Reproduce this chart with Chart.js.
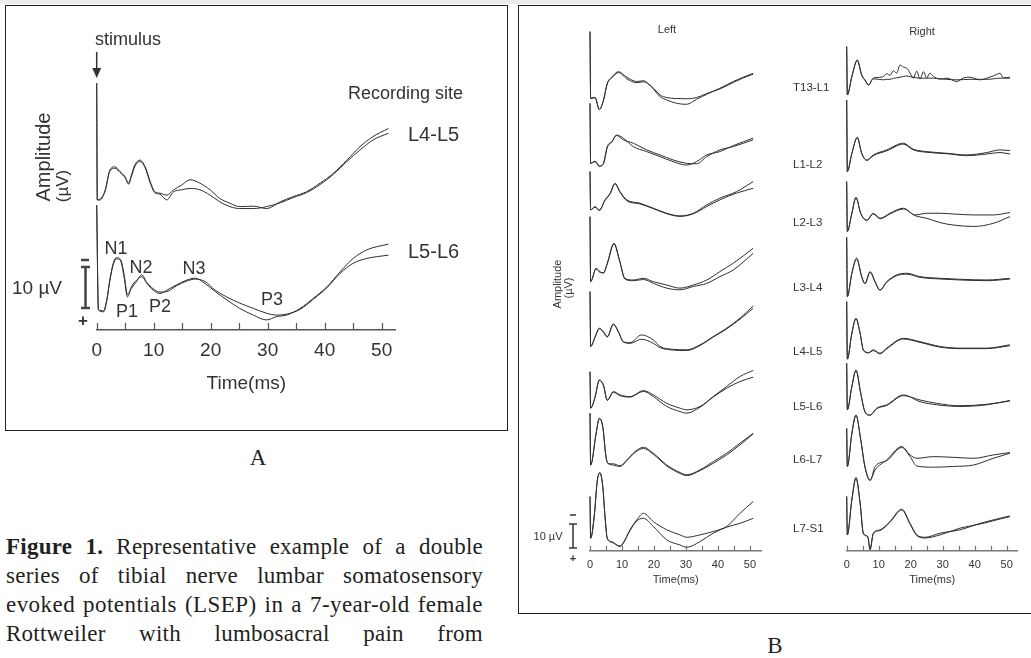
<!DOCTYPE html>
<html>
<head>
<meta charset="utf-8">
<title>LSEP</title>
<script src="https://cdn.jsdelivr.net/npm/chart.js@4.4.1/dist/chart.umd.min.js"></script>
<style>
  body { margin: 0; background: #fff; }
  #page { position: relative; width: 1031px; height: 658px; overflow: hidden; font-family: "Liberation Sans", Arial, sans-serif; color: #333; }
  #franja { position: absolute; left: 0; top: 0; width: 1031px; height: 4px; background: #ececec; }
  .box { position: absolute; border: 1.5px solid #222; box-sizing: border-box; }
  .lbl { position: absolute; white-space: nowrap; line-height: 1; transform: translate(-50%, -50%); }
  .izq { transform: translate(0, -50%); }
  .rot { transform: translate(-50%, -50%) rotate(-90deg); }
  canvas { position: absolute; }
  .cap { position: absolute; left: 6px; width: 477px; font-family: "Liberation Serif", "Times New Roman", serif; font-size: 23px; letter-spacing: 0.25px; color: #231f20; text-align: justify; text-align-last: justify; white-space: nowrap; line-height: 1; }
  .serif { font-family: "Liberation Serif", "Times New Roman", serif; color: #231f20; }
</style>
</head>
<body>
<div id="page">
  <div id="franja"></div>
  <div class="box" style="left:5px;top:5px;width:503px;height:426px;"></div>
  <div class="box" style="left:518px;top:5px;width:530px;height:609px;"></div>

  <canvas id="graficoA" width="500" height="423" style="left:6px;top:6px;"></canvas>
  <canvas id="graficoIzq" width="250" height="600" style="left:522px;top:8px;"></canvas>
  <canvas id="graficoDer" width="245" height="600" style="left:780px;top:8px;"></canvas>

  <!-- panel A texts -->
  <div class="lbl" style="left:128px;top:39px;font-size:18px;">stimulus</div>
  <div class="lbl izq" style="left:348px;top:93px;font-size:18px;">Recording site</div>
  <div class="lbl izq" style="left:408px;top:134px;font-size:20px;">L4-L5</div>
  <div class="lbl izq" style="left:408px;top:251px;font-size:20px;">L5-L6</div>
  <div class="lbl rot" style="left:43px;top:157px;font-size:20px;">Amplitude</div>
  <div class="lbl rot" style="left:62px;top:186px;font-size:17px;">(µV)</div>
  <div class="lbl" style="left:116px;top:248px;font-size:18px;">N1</div>
  <div class="lbl" style="left:141px;top:267px;font-size:18px;">N2</div>
  <div class="lbl" style="left:194px;top:268px;font-size:18px;">N3</div>
  <div class="lbl" style="left:127px;top:311px;font-size:18px;">P1</div>
  <div class="lbl" style="left:160px;top:306px;font-size:18px;">P2</div>
  <div class="lbl" style="left:272px;top:299px;font-size:18px;">P3</div>
  <div class="lbl" style="left:37px;top:287px;font-size:19px;">10 µV</div>
  <div class="lbl" style="left:83px;top:320px;font-size:17px;font-weight:bold;">+</div>
  <div class="lbl serif" style="left:258px;top:457px;font-size:23px;">A</div>

  <!-- panel B texts -->
  <div class="lbl" style="left:667px;top:29px;font-size:11px;">Left</div>
  <div class="lbl" style="left:922px;top:31px;font-size:11px;">Right</div>
  <div class="lbl rot" style="left:557px;top:284px;font-size:11px;">Amplitude</div>
  <div class="lbl rot" style="left:568px;top:288px;font-size:11px;">(µV)</div>
  <div class="lbl" style="left:548px;top:536px;font-size:11px;">10 µV</div>
  <div class="lbl" style="left:573px;top:558px;font-size:11px;font-weight:bold;">+</div>
  <div class="lbl serif" style="left:775px;top:645px;font-size:23px;">B</div>
  <div id="sitios"></div>

  <!-- caption -->
  <div class="cap" style="top:535px;"><b>Figure 1.</b> Representative example of a double</div>
  <div class="cap" style="top:564px;">series of tibial nerve lumbar somatosensory</div>
  <div class="cap" style="top:593px;letter-spacing:0.45px;">evoked potentials (LSEP) in a 7-year-old female</div>
  <div class="cap" style="top:622px;">Rottweiler with lumbosacral pain from</div>
</div>

<script>
// ---- Panel A: amplitude in µV (negativity up), time in ms ----
const tA_L4L5 = [0, 0.1, 0.6, 1.5, 2.3, 3.2, 4.1, 5.0, 5.6, 6.1, 6.7, 7.6, 8.5, 9.4, 10.2, 11.1, 12.3, 13.5, 14.9, 16.4, 18.1, 19.9, 21.6, 23.4, 25.1, 27.5, 29.8, 32.2, 34.5, 36.8, 39.2, 41.5, 43.9, 46.2, 48.5, 51.2];
const A_L4L5_r1 = [51.4, 27.1, 27.1, 29.2, 33.3, 34.0, 33.0, 31.9, 30.6, 32.3, 34.4, 35.4, 34.0, 30.9, 28.8, 28.5, 28.1, 29.2, 30.2, 31.3, 30.6, 29.2, 27.4, 26.4, 25.7, 25.8, 25.3, 26.7, 27.8, 28.8, 30.6, 32.6, 35.4, 38.2, 40.3, 42.0];
const A_L4L5_r2 = [51.4, 27.1, 27.3, 29.0, 33.1, 33.7, 32.8, 31.7, 30.4, 32.0, 34.1, 35.1, 33.8, 30.6, 28.6, 28.3, 27.1, 28.8, 29.2, 29.5, 29.2, 28.1, 26.7, 25.7, 25.3, 25.3, 25.7, 26.5, 27.6, 28.6, 30.3, 32.4, 35.1, 37.5, 39.6, 41.0];

const tA_L5L6 = [0, 0.3, 1.2, 1.8, 2.3, 2.9, 3.5, 4.2, 4.8, 5.4, 6.1, 7.0, 7.9, 8.8, 9.9, 11.1, 12.3, 14.0, 15.8, 17.3, 19.0, 20.8, 22.8, 25.1, 27.5, 29.8, 31.6, 33.3, 35.7, 38.0, 40.4, 42.7, 45.0, 47.4, 51.2];
const A_L5L6_r1 = [26.0, 4.2, 3.8, 6.3, 10.4, 13.9, 15.1, 14.4, 11.1, 6.9, 9.0, 10.4, 11.1, 9.7, 8.3, 7.6, 8.3, 9.4, 10.4, 10.8, 9.7, 8.0, 6.3, 4.5, 3.1, 2.1, 2.8, 3.1, 4.5, 6.6, 9.0, 12.1, 14.9, 16.7, 17.9];
const A_L5L6_r2 = [26.0, 4.2, 4.0, 6.5, 10.2, 13.6, 14.8, 14.6, 11.6, 7.4, 8.7, 10.1, 11.5, 9.9, 8.6, 7.9, 8.0, 9.2, 10.2, 10.6, 10.1, 8.3, 6.9, 5.6, 4.5, 3.5, 3.1, 3.3, 4.3, 6.4, 8.8, 11.8, 13.9, 14.9, 15.6];

// ---- Panel B, left side ----
const tL_T13L1 = [0, 0.2, 1.6, 2.9, 4.2, 5.4, 6.8, 8.9, 11.5, 14.6, 16.7, 19.3, 21.9, 24.0, 27.1, 30.2, 33.3, 36.5, 40.6, 44.8, 47.9, 51.0];
const L_T13L1_r1 = [216.3, 188.5, 188.9, 183.7, 187.8, 194.8, 197.3, 199.6, 197.3, 195.5, 195.8, 193.1, 189.2, 187.8, 186.4, 186.0, 188.1, 190.2, 192.7, 195.5, 197.3, 198.9];
const L_T13L1_r2 = [216.3, 188.5, 188.7, 183.9, 187.5, 194.5, 197.0, 199.2, 196.6, 195.0, 195.4, 193.4, 189.9, 188.8, 188.4, 188.3, 188.8, 190.5, 192.4, 195.1, 197.0, 198.6];

const tL_L1L2 = [0, 0.2, 1.6, 2.9, 4.2, 5.4, 6.8, 8.3, 10.4, 13.5, 17.7, 21.9, 26.0, 30.2, 33.3, 36.5, 40.6, 44.8, 51.0];
const L_L1L2_r1 = [186.4, 161.4, 162.1, 160.1, 161.4, 168.4, 170.5, 173.2, 171.9, 168.4, 166.3, 164.2, 162.1, 160.7, 162.1, 164.9, 166.3, 168.8, 171.9];
const L_L1L2_r2 = [186.4, 161.4, 162.3, 160.4, 161.2, 168.0, 170.2, 173.0, 171.2, 169.8, 167.0, 164.9, 162.8, 161.4, 161.2, 164.2, 167.0, 168.4, 171.2];

const tL_L2L3 = [0, 0.2, 1.6, 2.9, 4.7, 6.3, 7.8, 9.4, 11.5, 15.6, 19.8, 24.0, 28.1, 32.3, 36.5, 40.6, 45.8, 51.0];
const L_L2L3_r1 = [158.0, 142.0, 143.4, 141.7, 146.2, 149.0, 153.1, 149.6, 146.2, 144.8, 142.7, 140.6, 139.5, 140.6, 144.1, 146.9, 149.6, 153.8];
const L_L2L3_r2 = [158.0, 142.0, 143.2, 141.9, 146.0, 148.7, 152.8, 149.3, 145.8, 144.5, 142.5, 140.4, 139.3, 140.4, 143.4, 146.2, 149.0, 151.0];

const tL_L3L4 = [0, 0.2, 1.9, 3.1, 4.2, 5.4, 7.5, 9.2, 10.9, 13.5, 16.7, 19.8, 24.0, 28.1, 32.3, 36.5, 40.6, 44.8, 51.0];
const L_L3L4_r1 = [139.2, 112.1, 117.7, 116.3, 115.6, 119.8, 128.1, 121.2, 113.5, 112.8, 113.5, 112.1, 110.7, 109.4, 110.7, 112.8, 116.3, 119.8, 126.0];
const L_L3L4_r2 = [139.2, 112.1, 117.4, 116.0, 115.9, 119.5, 127.8, 121.0, 113.2, 112.5, 113.0, 111.4, 109.4, 108.7, 110.1, 111.4, 114.2, 117.0, 123.9];

const tL_L4L5 = [0, 0.2, 1.6, 2.9, 4.2, 5.4, 7.3, 8.9, 10.4, 12.5, 16.1, 19.8, 21.9, 26.0, 30.2, 34.4, 38.5, 42.7, 46.9, 51.0];
const L_L4L5_r1 = [108.0, 85.1, 89.2, 92.7, 91.3, 89.2, 94.5, 91.3, 87.1, 86.7, 89.9, 87.8, 85.1, 83.9, 83.7, 85.8, 89.2, 92.7, 96.9, 102.0];
const L_L4L5_r2 = [108.0, 85.1, 89.0, 92.5, 91.0, 89.0, 94.2, 91.0, 87.0, 86.4, 88.1, 86.4, 84.6, 83.6, 83.4, 85.5, 89.0, 92.4, 96.5, 101.0];

const tL_L5L6 = [0, 0.2, 1.6, 2.9, 4.2, 5.4, 7.3, 9.4, 12.5, 16.7, 19.8, 24.0, 28.1, 30.2, 34.4, 38.5, 42.7, 46.9, 51.0];
const L_L5L6_r1 = [74.6, 59.4, 64.2, 71.2, 69.1, 62.8, 66.3, 64.9, 64.2, 66.7, 64.9, 61.4, 59.4, 58.7, 60.1, 64.2, 68.4, 72.6, 75.1];
const L_L5L6_r2 = [74.6, 59.4, 64.0, 71.0, 68.8, 62.6, 66.0, 64.6, 64.0, 66.4, 64.2, 60.1, 58.0, 57.3, 59.8, 64.0, 67.7, 70.5, 72.3];

const tL_L6L7 = [0, 0.2, 1.9, 2.9, 4.0, 5.0, 5.7, 7.3, 9.4, 11.5, 14.1, 16.7, 19.8, 24.0, 28.1, 30.2, 34.4, 38.5, 42.7, 46.9, 51.0];
const L_L6L7_r1 = [57.3, 35.7, 48.9, 55.2, 51.7, 39.2, 36.4, 35.7, 35.1, 37.8, 41.3, 43.1, 40.6, 35.7, 32.6, 31.6, 33.7, 37.1, 40.6, 44.8, 48.9];
const L_L6L7_r2 = [57.3, 35.7, 48.6, 55.0, 51.4, 39.0, 36.2, 36.2, 35.4, 37.5, 41.0, 42.6, 40.2, 35.3, 32.2, 31.3, 33.4, 36.4, 39.9, 44.1, 48.7];

const tL_L7S1 = [0, 0.2, 1.3, 2.3, 3.1, 4.0, 4.7, 5.4, 6.8, 9.4, 10.4, 12.5, 14.6, 16.7, 19.8, 24.0, 28.1, 30.2, 34.4, 38.5, 42.7, 46.9, 51.0];
const L_L7S1_r1 = [22.6, 5.2, 14.2, 29.5, 32.6, 26.7, 14.2, 5.2, 3.8, 1.7, 3.1, 8.7, 12.8, 15.6, 12.1, 8.7, 6.6, 5.6, 6.6, 8.0, 10.1, 15.6, 20.5];
const L_L7S1_r2 = [22.6, 5.2, 14.0, 29.3, 32.3, 26.5, 14.0, 5.0, 3.5, 1.9, 3.3, 8.4, 12.4, 13.5, 10.1, 4.5, 2.4, 1.4, 3.8, 7.3, 9.8, 11.4, 13.5];

// ---- Panel B, right side ----
const tR_T13L1 = [0, 0.2, 1.6, 3.3, 4.7, 5.7, 6.8, 8.3, 10.0, 11.5, 12.5, 13.5, 14.6, 15.6, 16.7, 17.7, 18.8, 19.8, 20.8, 21.9, 22.9, 24.0, 25.0, 26.0, 27.1, 29.2, 31.3, 34.4, 36.5, 38.5, 41.7, 43.8, 45.8, 47.9, 49.0, 51.0];
const R_T13L1_r1 = [210.1, 189.9, 197.6, 204.5, 198.3, 196.2, 194.1, 196.9, 197.2, 197.6, 198.8, 198.0, 200.0, 199.0, 202.4, 201.5, 201.0, 199.0, 196.9, 199.8, 196.5, 199.6, 197.0, 199.0, 197.6, 196.5, 196.9, 195.5, 197.0, 197.3, 196.2, 196.9, 197.8, 198.9, 197.0, 197.3];
const R_T13L1_r2 = [210.1, 189.9, 197.4, 204.2, 198.0, 196.0, 194.0, 196.6, 196.4, 196.2, 196.4, 196.4, 196.8, 197.0, 197.3, 197.6, 197.8, 197.5, 197.3, 197.0, 196.9, 196.9, 196.9, 196.9, 196.9, 196.6, 196.4, 196.2, 196.3, 196.4, 196.4, 196.4, 196.6, 196.9, 196.9, 196.9];

const tR_L1L2 = [0, 0.2, 1.6, 3.3, 4.7, 6.3, 8.3, 12.5, 17.7, 20.8, 25.0, 31.3, 37.5, 43.8, 47.9, 51.0];
const R_L1L2_r1 = [187.8, 158.0, 165.6, 172.3, 165.6, 162.8, 164.9, 167.0, 169.8, 167.3, 166.3, 165.6, 164.9, 165.9, 167.0, 166.7];
const R_L1L2_r2 = [187.8, 158.0, 165.4, 172.0, 165.4, 162.6, 164.6, 166.6, 169.4, 167.0, 166.0, 165.4, 164.6, 165.3, 165.9, 165.3];

const tR_L2L3 = [0, 0.2, 1.6, 2.9, 4.4, 6.3, 8.3, 10.4, 13.5, 17.7, 21.4, 25.0, 29.2, 33.3, 39.6, 45.8, 51.0];
const R_L2L3_r1 = [153.8, 133.0, 140.6, 147.3, 140.6, 137.8, 140.6, 138.5, 140.6, 142.7, 139.9, 140.6, 140.6, 140.3, 139.9, 139.9, 140.9];
const R_L2L3_r2 = [153.8, 133.0, 140.4, 147.0, 140.4, 137.6, 140.3, 138.3, 140.3, 142.4, 139.6, 138.5, 136.7, 135.7, 135.1, 136.4, 139.2];

const tR_L3L4 = [0, 0.2, 1.6, 3.1, 4.7, 5.7, 7.3, 8.9, 10.4, 12.5, 15.6, 18.8, 22.9, 29.2, 35.4, 43.8, 51.0];
const R_L3L4_r1 = [130.6, 105.9, 115.6, 121.9, 114.2, 111.4, 116.3, 112.1, 108.7, 112.1, 114.9, 115.6, 114.2, 113.5, 113.1, 112.8, 113.5];
const R_L3L4_r2 = [130.6, 105.9, 115.4, 121.6, 114.0, 111.2, 116.0, 111.8, 108.5, 111.8, 114.6, 115.2, 113.9, 113.2, 112.8, 112.5, 113.2];

const tR_L4L5 = [0, 0.2, 1.6, 2.9, 4.2, 5.2, 6.8, 8.3, 10.4, 12.5, 17.7, 22.9, 29.2, 35.4, 43.8, 51.0];
const R_L4L5_r1 = [103.8, 79.8, 90.6, 96.9, 90.6, 83.7, 82.6, 83.7, 82.3, 84.4, 88.5, 87.1, 85.1, 84.4, 84.4, 85.8];
const R_L4L5_r2 = [103.8, 79.8, 90.4, 96.6, 90.4, 83.5, 82.4, 83.4, 82.0, 84.1, 88.2, 86.8, 84.8, 84.2, 84.2, 85.4];

const tR_L5L6 = [0, 0.2, 1.6, 2.9, 4.4, 5.7, 7.3, 9.4, 12.5, 17.7, 22.9, 28.1, 35.4, 43.8, 51.0];
const R_L5L6_r1 = [78.1, 58.7, 68.4, 75.3, 65.6, 58.0, 56.6, 59.4, 60.8, 64.9, 62.1, 60.8, 60.1, 60.8, 62.6];
const R_L5L6_r2 = [78.1, 58.7, 68.2, 75.0, 65.4, 57.8, 56.4, 59.2, 60.5, 64.6, 62.8, 61.4, 60.4, 61.0, 62.4];

const tR_L6L7 = [0, 0.2, 1.6, 2.9, 4.4, 5.7, 7.3, 8.9, 12.5, 17.2, 19.8, 21.9, 27.1, 33.3, 39.6, 45.8, 51.0];
const R_L6L7_r1 = [51.0, 35.1, 48.9, 56.6, 46.2, 35.1, 29.5, 33.7, 37.8, 43.4, 39.9, 38.5, 39.2, 38.9, 38.5, 39.9, 40.9];
const R_L6L7_r2 = [51.0, 35.1, 48.6, 56.3, 46.0, 34.8, 29.2, 35.1, 37.5, 43.0, 39.2, 35.3, 34.8, 35.1, 35.7, 38.5, 40.6];

const tR_L7S1 = [0, 0.2, 1.6, 2.9, 4.2, 5.2, 6.6, 7.3, 8.3, 10.4, 13.5, 17.2, 19.8, 21.9, 24.5, 29.2, 35.4, 41.7, 47.9, 51.0];
const R_L7S1_r1 = [22.6, 6.6, 21.2, 30.5, 19.8, 7.3, 5.9, 0.3, 7.3, 8.7, 12.1, 17.3, 11.4, 6.6, 5.6, 7.3, 8.7, 11.4, 13.5, 14.5];
const R_L7S1_r2 = [22.6, 6.6, 21.0, 30.2, 19.6, 7.1, 5.7, 0.6, 7.0, 8.4, 11.8, 17.0, 11.1, 6.3, 5.3, 6.6, 9.4, 11.1, 13.2, 14.2];

// recording sites (labels between the two columns)
const sitios = ['T13-L1', 'L1-L2', 'L2-L3', 'L3-L4', 'L4-L5', 'L5-L6', 'L6-L7', 'L7-S1'];
const sitiosY = [88, 165, 223, 288, 352, 407, 460, 529];

var contSitios = document.getElementById('sitios');
sitios.forEach(function (s, i) {
    var d = document.createElement('div');
    d.className = 'lbl izq';
    d.style.left = '793px';
    d.style.top = sitiosY[i] + 'px';
    d.style.fontSize = '11.5px';
    d.textContent = s;
    contSitios.appendChild(d);
});

function trazos(t, corridas) {
    return corridas.map(function (r) {
        return {
            data: t.map(function (x, i) { return { x: x, y: r[i] }; }),
            borderColor: '#2e2e2e',
            borderWidth: 1,
            pointRadius: 0,
            cubicInterpolationMode: 'monotone',
            fill: false,
            clip: false
        };
    });
}

function marcas(cfg) {
    return {
        id: 'marcas',
        afterDraw: function (chart) {
            var ctx = chart.ctx;
            var xs = chart.scales.x;
            var base = chart.chartArea.bottom;
            ctx.save();
            ctx.strokeStyle = cfg.axisColor;
            ctx.lineWidth = 1.2;
            xs.ticks.forEach(function (tk) {
                var px = Math.round(xs.getPixelForValue(tk.value)) + 0.5;
                ctx.beginPath();
                ctx.moveTo(px, base);
                ctx.lineTo(px, base - cfg.tickLen);
                ctx.stroke();
            });
            if (cfg.extra) cfg.extra(chart, ctx);
            ctx.restore();
        }
    };
}

function grafico(id, datasets, cfg) {
    return new Chart(document.getElementById(id), {
        type: 'line',
        data: { datasets: datasets },
        options: {
            responsive: false,
            animation: false,
            events: [],
            layout: { padding: cfg.padding },
            plugins: { legend: { display: false }, tooltip: { enabled: false } },
            scales: {
                x: {
                    type: 'linear',
                    min: 0,
                    max: cfg.xmax,
                    border: { display: true, color: cfg.axisColor, width: cfg.axisWidth },
                    grid: { display: false },
                    ticks: {
                        stepSize: 5,
                        includeBounds: false,
                        autoSkip: false,
                        maxRotation: 0,
                        padding: cfg.tickPad,
                        color: '#333',
                        font: { family: 'Liberation Sans', size: cfg.fontSize },
                        callback: function (v) { return v % 10 === 0 ? v : ''; }
                    },
                    title: {
                        display: true,
                        text: 'Time(ms)',
                        color: '#333',
                        font: { family: 'Liberation Sans', size: cfg.fontSize },
                        padding: { top: 0, bottom: cfg.titlePad }
                    },
                    afterFit: function (s) { s.height = cfg.axisHeight; }
                },
                y: { type: 'linear', display: false, min: 0, max: cfg.ymax }
            }
        },
        plugins: [marcas(cfg)]
    });
}

// scale bar + stimulus arrow for panel A
function extrasA(chart, ctx) {
    var x0 = chart.scales.x.getPixelForValue(0);
    ctx.strokeStyle = '#333';
    ctx.fillStyle = '#333';
    ctx.lineWidth = 1.5;
    ctx.beginPath(); ctx.moveTo(x0, 46); ctx.lineTo(x0, 64); ctx.stroke();
    ctx.beginPath(); ctx.moveTo(x0 - 4.5, 62); ctx.lineTo(x0 + 4.5, 62); ctx.lineTo(x0, 72); ctx.closePath(); ctx.fill();
    ctx.strokeStyle = '#444';
    ctx.lineWidth = 2.5;
    ctx.beginPath(); ctx.moveTo(75, 254); ctx.lineTo(83, 254); ctx.stroke();
    ctx.beginPath(); ctx.moveTo(75, 261); ctx.lineTo(84, 261); ctx.stroke();
    ctx.beginPath(); ctx.moveTo(75, 302); ctx.lineTo(84, 302); ctx.stroke();
    ctx.beginPath(); ctx.moveTo(79.5, 261); ctx.lineTo(79.5, 302); ctx.stroke();
}

// scale bar for panel B
function extrasB(chart, ctx) {
    ctx.strokeStyle = '#333';
    ctx.lineWidth = 1.5;
    ctx.beginPath(); ctx.moveTo(48, 507); ctx.lineTo(54, 507); ctx.stroke();
    ctx.beginPath(); ctx.moveTo(47, 516); ctx.lineTo(55, 516); ctx.stroke();
    ctx.beginPath(); ctx.moveTo(47, 540); ctx.lineTo(55, 540); ctx.stroke();
    ctx.beginPath(); ctx.moveTo(51, 516); ctx.lineTo(51, 540); ctx.stroke();
}

grafico('graficoA',
    trazos(tA_L4L5, [A_L4L5_r1, A_L4L5_r2]).concat(trazos(tA_L5L6, [A_L5L6_r1, A_L5L6_r2])),
    { padding: { left: 90.7, right: 110.1, top: 54, bottom: 0 }, xmax: 52.5, ymax: 56.25,
      axisColor: '#555', axisWidth: 1.5, tickLen: 7, tickPad: 1, fontSize: 19, titlePad: 34,
      axisHeight: 99, extra: extrasA });

grafico('graficoIzq',
    [].concat(
        trazos(tL_T13L1, [L_T13L1_r1, L_T13L1_r2]),
        trazos(tL_L1L2, [L_L1L2_r1, L_L1L2_r2]),
        trazos(tL_L2L3, [L_L2L3_r1, L_L2L3_r2]),
        trazos(tL_L3L4, [L_L3L4_r1, L_L3L4_r2]),
        trazos(tL_L4L5, [L_L4L5_r1, L_L4L5_r2]),
        trazos(tL_L5L6, [L_L5L6_r1, L_L5L6_r2]),
        trazos(tL_L6L7, [L_L6L7_r1, L_L6L7_r2]),
        trazos(tL_L7S1, [L_L7S1_r1, L_L7S1_r2])),
    { padding: { left: 68, right: 10.5, top: 22, bottom: 0 }, xmax: 53.6, ymax: 216.96,
      axisColor: '#777', axisWidth: 1.5, tickLen: 5, tickPad: 0, fontSize: 11, titlePad: 21,
      axisHeight: 57.3, extra: extrasB });

grafico('graficoDer',
    [].concat(
        trazos(tR_T13L1, [R_T13L1_r1, R_T13L1_r2]),
        trazos(tR_L1L2, [R_L1L2_r1, R_L1L2_r2]),
        trazos(tR_L2L3, [R_L2L3_r1, R_L2L3_r2]),
        trazos(tR_L3L4, [R_L3L4_r1, R_L3L4_r2]),
        trazos(tR_L4L5, [R_L4L5_r1, R_L4L5_r2]),
        trazos(tR_L5L6, [R_L5L6_r1, R_L5L6_r2]),
        trazos(tR_L6L7, [R_L6L7_r1, R_L6L7_r2]),
        trazos(tR_L7S1, [R_L7S1_r1, R_L7S1_r2])),
    { padding: { left: 66.7, right: 7.4, top: 22, bottom: 0 }, xmax: 53.4, ymax: 216.96,
      axisColor: '#777', axisWidth: 1.5, tickLen: 5, tickPad: 0, fontSize: 11, titlePad: 21,
      axisHeight: 57.3, extra: null });
</script>
</body>
</html>
